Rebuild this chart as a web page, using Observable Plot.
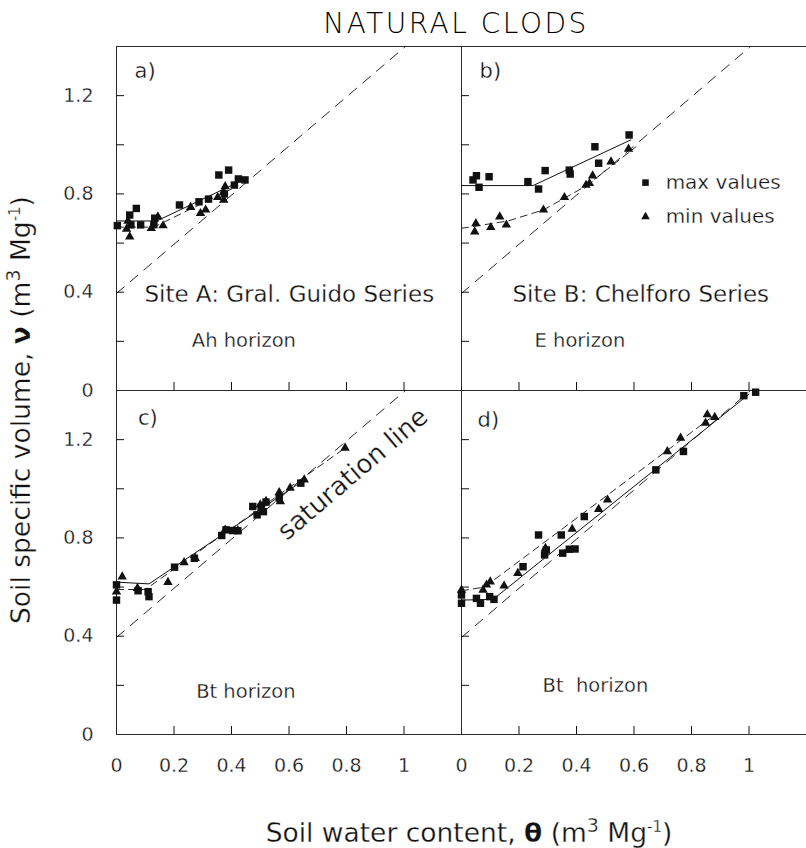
<!DOCTYPE html>
<html>
<head>
<meta charset="utf-8">
<script src="https://cdn.jsdelivr.net/npm/d3@7"></script>
<script src="https://cdn.jsdelivr.net/npm/@observablehq/plot@0.6"></script>
<style>
  html, body { margin: 0; padding: 0; background: #fff; }
  #wrap { position: relative; width: 806px; height: 848px; overflow: hidden; background: #fff; }
  #chart, #overlay { position: absolute; left: 0; top: 0; }
  #overlay { pointer-events: none; }
  text { font-family: "DejaVu Sans", sans-serif; }
</style>
</head>
<body>
<div id="wrap">
  <div id="chart"></div>
  <svg id="overlay" width="806" height="848" font-family="DejaVu Sans, sans-serif" fill="#111" stroke="#fff" stroke-width="0.3" paint-order="normal">
    <text x="456" y="33" text-anchor="middle" font-size="28" font-weight="300" fill="#000" stroke="none" letter-spacing="2.5">NATURAL CLODS</text>
    <text x="469" y="842" text-anchor="middle" font-size="26.5">Soil water content, <tspan font-weight="bold">θ</tspan> (m<tspan dy="-10" font-size="19">3</tspan><tspan dy="10"> Mg</tspan><tspan dy="-10" font-size="15">-1</tspan><tspan dy="10">)</tspan></text>
    <text transform="translate(30,410) rotate(-90)" text-anchor="middle" font-size="26.5">Soil specific volume, <tspan font-weight="bold">ν</tspan> (m<tspan dy="-10" font-size="19">3</tspan><tspan dy="10"> Mg</tspan><tspan dy="-10" font-size="15">-1</tspan><tspan dy="10">)</tspan></text>
  </svg>
</div>
<script>
// ---------- data (θ, v) ----------
const aMax = [[0.003,0.671],[0.046,0.714],[0.069,0.741],[0.05,0.674],[0.084,0.674],[0.133,0.701],[0.13,0.675],[0.219,0.755],[0.287,0.768],[0.32,0.779],[0.356,0.877],[0.39,0.897],[0.41,0.836],[0.424,0.861],[0.447,0.857],[0.375,0.80]];
const aMin = [[0.035,0.657],[0.046,0.626],[0.04,0.69],[0.121,0.66],[0.144,0.707],[0.162,0.671],[0.258,0.746],[0.292,0.721],[0.31,0.735],[0.352,0.786],[0.373,0.775],[0.373,0.809],[0.378,0.83]];
const bMax = [[0.04,0.857],[0.052,0.874],[0.061,0.827],[0.096,0.87],[0.231,0.85],[0.268,0.82],[0.291,0.895],[0.375,0.897],[0.378,0.881],[0.464,0.992],[0.477,0.925],[0.583,1.04]];
const bMin = [[0.05,0.68],[0.046,0.646],[0.102,0.664],[0.133,0.707],[0.156,0.674],[0.285,0.735],[0.358,0.786],[0.433,0.836],[0.445,0.843],[0.456,0.874],[0.52,0.931],[0.581,0.983]];
const cMax = [[0,0.609],[0,0.547],[0.075,0.585],[0.11,0.581],[0.113,0.561],[0.202,0.681],[0.271,0.717],[0.366,0.81],[0.381,0.833],[0.404,0.83],[0.422,0.829],[0.474,0.928],[0.489,0.894],[0.503,0.925],[0.52,0.946],[0.511,0.907],[0.566,0.962],[0.641,1.023]];
const cMin = [[0,0.581],[0.02,0.642],[0.073,0.595],[0.179,0.62],[0.235,0.70],[0.274,0.717],[0.378,0.833],[0.422,0.83],[0.5,0.935],[0.52,0.95],[0.566,0.985],[0.57,0.948],[0.604,1.003],[0.653,1.037],[0.795,1.166]];
const dMax = [[0,0.568],[0,0.534],[0.052,0.554],[0.066,0.534],[0.098,0.561],[0.113,0.55],[0.214,0.683],[0.268,0.812],[0.295,0.751],[0.289,0.731],[0.347,0.812],[0.352,0.738],[0.375,0.754],[0.395,0.755],[0.427,0.887],[0.676,1.077],[0.772,1.152],[0.982,1.379],[1.023,1.393]];
const dMin = [[0,0.588],[0.087,0.609],[0.1,0.622],[0.075,0.588],[0.148,0.605],[0.196,0.656],[0.292,0.758],[0.385,0.836],[0.477,0.917],[0.508,0.955],[0.716,1.152],[0.762,1.207],[0.849,1.268],[0.855,1.302],[0.881,1.291]];

// fitted lines (vertices)
const aMaxFit = [[0,0.69],[0.14,0.69],[0.455,0.865]];
const aMinFit = [[0,0.665],[0.13,0.665],[0.40,0.82]];
const bMaxFit = [[0,0.834],[0.249,0.834],[0.589,1.02]];
const bMinFit = [[0,0.66],[0.162,0.69],[0.285,0.735],[0.433,0.832],[0.607,0.992]];
const cMaxFit = [[0,0.62],[0.113,0.613],[0.654,1.037]];
const cMinFit = [[0,0.59],[0.1,0.59],[0.8,1.17]];
const dMaxFit = [[0,0.547],[0.11,0.55],[1.0,1.385]];
const dMinFit = [[0,0.585],[0.08,0.6],[0.88,1.3]];

// saturation line end points
const satLine = [[0,0.395],[1.005,1.4]];

// panels
const panelIds = ["a","b","c","d"];
const panelCols = ["A","B","A","B"];
const panelRows = ["top","top","bottom","bottom"];

// text annotations
const letterText = ["a)","b)","c)","d)"];
const letterTheta = [0.063,0.063,0.075,0.056];
const letterV = [1.27,1.27,1.26,1.25];

const siteText = ["Site A: Gral. Guido Series","Site B: Chelforo Series"];
const siteTheta = [0.097,0.177];
const siteV = [0.36,0.36];
const sitePanel = ["a","b"];

const horizonText = ["Ah horizon","E horizon","Bt horizon","Bt  horizon"];
const horizonTheta = [0.262,0.254,0.277,0.282];
const horizonV = [0.178,0.178,0.15,0.175];

const legendText = ["max values","min values"];
const legendTheta = [0.64,0.64];
const legendTextTheta = [0.71,0.71];
const legendV = [0.846,0.707];

const satLabel = ["saturation line"];
const satLabelTheta = [0.822];
const satLabelV = [1.06];

// axis ticks
const xTickVals = [0.2,0.4,0.6,0.8,1.0];
const xLabelVals = [0,0.2,0.4,0.6,0.8,1];
const yTickVals = [0.2,0.4,0.6,0.8,1.0,1.2];
const yLabelVals = [0,0.4,0.8,1.2];

// ---------- build tables ----------
const colOf = id => panelCols[panelIds.indexOf(id)];
const rowOf = id => panelRows[panelIds.indexOf(id)];
const toRows = (arr, panel, kind) => arr.map(([t, v]) => ({t, v, panel, kind, col: colOf(panel), row: rowOf(panel)}));

const maxPts = [...toRows(aMax,"a","max"),...toRows(bMax,"b","max"),...toRows(cMax,"c","max"),...toRows(dMax,"d","max")];
const minPts = [...toRows(aMin,"a","min"),...toRows(bMin,"b","min"),...toRows(cMin,"c","min"),...toRows(dMin,"d","min")];
const maxFits = [...toRows(aMaxFit,"a"),...toRows(bMaxFit,"b"),...toRows(cMaxFit,"c"),...toRows(dMaxFit,"d")];
const minFits = [...toRows(aMinFit,"a"),...toRows(bMinFit,"b"),...toRows(cMinFit,"c"),...toRows(dMinFit,"d")];
const satRows = panelIds.flatMap(p => toRows(satLine, p));

const letters = panelIds.map((p, i) => ({label: letterText[i], t: letterTheta[i], v: letterV[i], col: colOf(p), row: rowOf(p)}));
const sites = siteText.map((s, i) => ({label: s, t: siteTheta[i], v: siteV[i], col: colOf(sitePanel[i]), row: rowOf(sitePanel[i])}));
const horizons = panelIds.map((p, i) => ({label: horizonText[i], t: horizonTheta[i], v: horizonV[i], col: colOf(p), row: rowOf(p)}));
const legendMarks = legendText.map((s, i) => ({label: s, t: legendTheta[i], tt: legendTextTheta[i], v: legendV[i], col: colOf("b"), row: rowOf("b")}));
const satLab = [{label: satLabel[0], t: satLabelTheta[0], v: satLabelV[0], col: colOf("c"), row: rowOf("c")}];

const ink = "#111";
const font = "DejaVu Sans, sans-serif";
const fmt = d => String(d);
const thin = {stroke: "#fff", strokeWidth: 0.3, paintOrder: "normal", fill: ink};
const fx = "col", fy = "row";

const chart = Plot.plot({
  width: 806,
  height: 848,
  marginTop: 46,
  marginLeft: 115,
  marginRight: 0,
  marginBottom: 114,
  x: {domain: [0, 1.2]},
  y: {domain: [0, 1.4]},
  fx: {domain: ["A","B"], padding: 0, axis: null},
  fy: {domain: ["top","bottom"], padding: 0, axis: null},
  style: {background: "transparent", overflow: "visible", fontFamily: font, color: ink},
  marks: [
    Plot.ruleY([0, 1.4], {stroke: "#2a2a2a", strokeWidth: 1}),
    Plot.ruleX([0], {stroke: "#2a2a2a", strokeWidth: 1}),
    Plot.axisY(yTickVals, {tickSize: -8, fill: "none", facetAnchor: null, label: null, stroke: ink}),
    Plot.axisX(xTickVals, {tickSize: -8, fill: "none", facetAnchor: null, label: null, stroke: ink}),
    Plot.axisY(yLabelVals, {tickSize: 0, tickPadding: 23, stroke: "none", label: null, fontSize: 19, tickFormat: fmt, fill: ink, textStroke: "#fff", textStrokeWidth: 0.3, paintOrder: "normal"}),
    Plot.axisX(xLabelVals, {tickSize: 0, tickPadding: 24, stroke: "none", label: null, fontSize: 19, tickFormat: fmt, fill: ink, textStroke: "#fff", textStrokeWidth: 0.3, paintOrder: "normal"}),
    Plot.line(satRows, {x: "t", y: "v", fx, fy, z: "panel", stroke: ink, strokeWidth: 0.9, strokeDasharray: "10,8"}),
    Plot.line(maxFits, {x: "t", y: "v", fx, fy, z: "panel", stroke: ink, strokeWidth: 1}),
    Plot.line(minFits, {x: "t", y: "v", fx, fy, z: "panel", stroke: ink, strokeWidth: 0.9, strokeDasharray: "7,5"}),
    Plot.dot(maxPts, {x: "t", y: "v", fx, fy, symbol: "square", r: 4.2, fill: ink, stroke: "none"}),
    Plot.dot(minPts, {x: "t", y: "v", fx, fy, symbol: "triangle", r: 3.5, fill: ink, stroke: "none"}),
    Plot.dot(legendMarks.slice(0,1), {x: "t", y: "v", fx, fy, symbol: "square", r: 3.7, fill: ink, stroke: "none"}),
    Plot.dot(legendMarks.slice(1), {x: "t", y: "v", fx, fy, symbol: "triangle", r: 3.2, fill: ink, stroke: "none"}),
    Plot.text(legendMarks, {x: "tt", y: "v", fx, fy, text: "label", textAnchor: "start", lineAnchor: "middle", fontSize: 20, ...thin}),
    Plot.text(letters, {x: "t", y: "v", fx, fy, text: "label", textAnchor: "start", lineAnchor: "bottom", fontSize: 21, ...thin}),
    Plot.text(sites, {x: "t", y: "v", fx, fy, text: "label", textAnchor: "start", lineAnchor: "bottom", fontSize: 23, ...thin}),
    Plot.text(horizons, {x: "t", y: "v", fx, fy, text: "label", textAnchor: "start", lineAnchor: "bottom", fontSize: 19.5, ...thin}),
    Plot.text(satLab, {x: "t", y: "v", fx, fy, text: "label", textAnchor: "middle", lineAnchor: "middle", rotate: -40.5, fontSize: 26, ...thin})
  ]
});
document.getElementById("chart").appendChild(chart);
</script>
</body>
</html>
